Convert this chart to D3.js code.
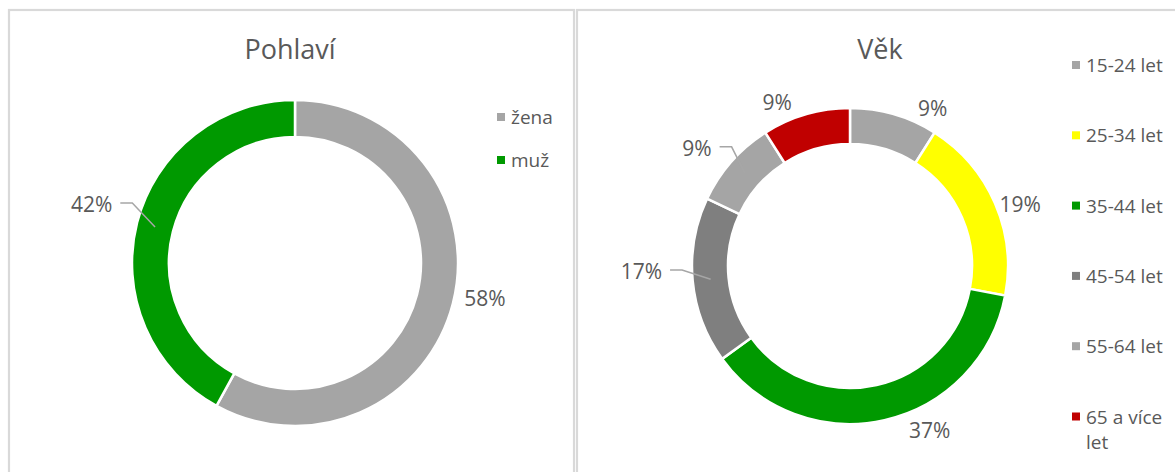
<!DOCTYPE html>
<html>
<head>
<meta charset="utf-8">
<script src="https://cdn.jsdelivr.net/npm/d3@7"></script>
<style>
  body { margin: 0; background: #fff; }
  text { font-family: "Open Sans", "DejaVu Sans", sans-serif; fill: #595959; }
</style>
</head>
<body>
<div id="chart"></div>
<script>
// data
var pohlaviCategories = ["žena", "muž"];
var pohlaviValues = [58, 42];
var pohlaviColors = ["#A5A5A5", "#009900"];

var vekCategories = ["15-24 let", "25-34 let", "35-44 let", "45-54 let", "55-64 let", "65 a více let"];
var vekValues = [9, 19, 37, 17, 9, 9];
var vekColors = ["#A5A5A5", "#FFFF00", "#009900", "#7F7F7F", "#A5A5A5", "#C00000"];

var svgWidth = 1175;
var svgHeight = 472;

var svg = d3.select("#chart")
  .append("svg")
  .attr("width", svgWidth)
  .attr("height", svgHeight);

// panel frames
svg.append("rect")
  .attr("x", 9).attr("y", 10)
  .attr("width", 565).attr("height", 500)
  .attr("fill", "none")
  .attr("stroke", "#D9D9D9")
  .attr("stroke-width", 2.2);

svg.append("rect")
  .attr("x", 577).attr("y", 10)
  .attr("width", 700).attr("height", 500)
  .attr("fill", "none")
  .attr("stroke", "#D9D9D9")
  .attr("stroke-width", 2.2);

function drawDonut(opts) {
  var g = svg.append("g")
    .attr("transform", `translate(${opts.cx}, ${opts.cy})`);

  var pie = d3.pie().sort(null).value(d => d);
  var arcs = pie(opts.values);

  var arc = d3.arc()
    .innerRadius(opts.inner)
    .outerRadius(opts.outer);

  g.selectAll("path")
    .data(arcs)
    .enter()
    .append("path")
    .attr("d", arc)
    .attr("fill", (d, i) => opts.colors[i])
    .attr("stroke", "#fff")
    .attr("stroke-width", 2.5);

  var mid = (opts.inner + opts.outer) / 2;

  arcs.forEach(function(d, i) {
    var lay = opts.labels[i];
    var midAngle = (d.startAngle + d.endAngle) / 2;
    var a = midAngle + lay.nudge * Math.PI / 180;
    var lx = Math.sin(a) * lay.r;
    var ly = -Math.cos(a) * lay.r;
    var txt = d3.format(".0%")(d.data / d3.sum(opts.values));

    if (lay.leader) {
      var rx = Math.sin(midAngle) * mid;
      var ry = -Math.cos(midAngle) * mid;
      g.append("polyline")
        .attr("points", [[lx + 8, ly - 1], [lx + 20, ly - 1], [rx, ry]].map(p => p.join(",")).join(" "))
        .attr("fill", "none")
        .attr("stroke", "#A6A6A6")
        .attr("stroke-width", 1.5);
    }

    g.append("text")
      .attr("x", lx)
      .attr("y", ly)
      .attr("text-anchor", lay.leader ? "end" : "middle")
      .attr("dominant-baseline", "central")
      .style("font-size", "21px")
      .text(txt);
  });

  // title
  svg.append("text")
    .attr("x", opts.titleX)
    .attr("y", 48)
    .attr("text-anchor", "middle")
    .attr("dominant-baseline", "central")
    .style("font-size", "27px")
    .text(opts.title);

  // legend
  var legend = svg.append("g")
    .attr("transform", `translate(${opts.legendX}, ${opts.legendY})`);

  opts.categories.forEach(function(c, i) {
    var row = legend.append("g")
      .attr("transform", `translate(0, ${i * opts.legendStep})`);
    row.append("rect")
      .attr("x", 0).attr("y", -4)
      .attr("width", 8).attr("height", 8)
      .attr("fill", opts.colors[i]);
    var t = row.append("text")
      .attr("x", 14)
      .attr("y", 0)
      .attr("dominant-baseline", "central")
      .style("font-size", "19px");
    // long names wrap like the original legend
    if (c === "65 a více let") {
      t.append("tspan").attr("x", 14).text("65 a více");
      t.append("tspan").attr("x", 14).attr("dy", 25).text("let");
    } else {
      t.text(c);
    }
  });
}

drawDonut({
  title: "Pohlaví",
  titleX: 290,
  cx: 295, cy: 263, outer: 163, inner: 126,
  values: pohlaviValues,
  colors: pohlaviColors,
  categories: pohlaviCategories,
  labels: [
    { r: 193, nudge: -4 },
    { r: 192, nudge: 3.5, leader: true }
  ],
  legendX: 497, legendY: 117, legendStep: 43
});

drawDonut({
  title: "Věk",
  titleX: 880,
  cx: 850, cy: 266, outer: 158, inner: 122,
  values: vekValues,
  colors: vekColors,
  categories: vekCategories,
  labels: [
    { r: 178, nudge: 11.5 },
    { r: 181, nudge: 3.4 },
    { r: 182, nudge: -13.4 },
    { r: 188, nudge: 3.9, leader: true },
    { r: 182, nudge: -0.9, leader: true },
    { r: 179, nudge: -7.8 }
  ],
  legendX: 1072, legendY: 65, legendStep: 70.3
});
</script>
</body>
</html>
